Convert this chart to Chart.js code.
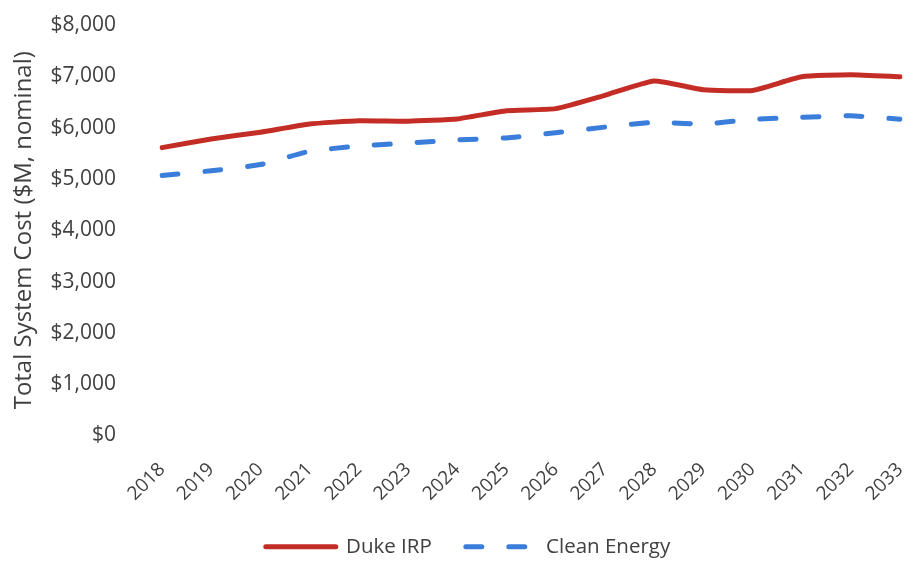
<!DOCTYPE html>
<html>
<head>
<meta charset="utf-8">
<script src="https://cdn.jsdelivr.net/npm/chart.js@4"></script>
<style>
  html, body { margin: 0; padding: 0; background: #ffffff; }
  #wrap { width: 914px; height: 571px; position: relative; }
</style>
</head>
<body>
<div id="wrap"><canvas id="c" width="914" height="571"></canvas></div>
<script>
// Total system cost by year, $M nominal
const years = ['2018','2019','2020','2021','2022','2023','2024','2025','2026','2027','2028','2029','2030','2031','2032','2033'];
const dukeIRP = [5610, 5780, 5910, 6070, 6135, 6125, 6170, 6330, 6370, 6630, 6910, 6740, 6725, 6990, 7030, 6990];
const cleanEnergy = [5065, 5160, 5280, 5540, 5640, 5700, 5760, 5800, 5900, 6010, 6105, 6070, 6160, 6200, 6230, 6165];
const yTicks = [0, 1000, 2000, 3000, 4000, 5000, 6000, 7000, 8000];

const FONT = "'Open Sans', 'Liberation Sans', sans-serif";
const TEXT = '#404040';

// nudge the legend row a little to the right, under the plot
const legendShift = {
  id: 'legendShift',
  afterLayout(chart) {
    if (chart.legend) {
      chart.legend.left += 13;
      chart.legend.right += 13;
    }
  }
};

new Chart(document.getElementById('c'), {
  type: 'line',
  data: {
    labels: years,
    datasets: [
      {
        label: 'Duke IRP',
        data: dukeIRP,
        borderColor: '#C42D25',
        backgroundColor: '#C42D25',
        borderWidth: 5,
        borderCapStyle: 'round',
        borderJoinStyle: 'round',
        pointRadius: 0,
        pointHoverRadius: 0,
        tension: 0.15
      },
      {
        label: 'Clean Energy',
        data: cleanEnergy,
        borderColor: '#3B7DDA',
        backgroundColor: '#3B7DDA',
        borderWidth: 5,
        borderDash: [16, 27],
        borderCapStyle: 'round',
        borderJoinStyle: 'round',
        pointRadius: 0,
        pointHoverRadius: 0,
        tension: 0.15
      }
    ]
  },
  options: {
    responsive: false,
    animation: false,
    devicePixelRatio: 1,
    layout: { padding: { top: 25, right: 14, bottom: 4, left: 10 } },
    plugins: {
      tooltip: { enabled: false },
      legend: {
        position: 'bottom',
        labels: {
          color: TEXT,
          font: { family: FONT, size: 20.5 },
          usePointStyle: true,
          pointStyle: 'line',
          pointStyleWidth: 70,
          boxHeight: 20,
          padding: 34,
          generateLabels(chart) {
            const items = Chart.defaults.plugins.legend.labels.generateLabels(chart);
            items.forEach((it) => {
              const ds = chart.data.datasets[it.datasetIndex];
              it.lineDash = ds.borderDash || [];
              it.lineWidth = ds.borderWidth;
              it.lineCap = 'round';
              it.strokeStyle = ds.borderColor;
            });
            return items;
          }
        }
      }
    },
    scales: {
      x: {
        grid: { display: false, drawTicks: false },
        border: { display: false },
        ticks: {
          color: TEXT,
          font: { family: FONT, size: 19 },
          minRotation: 45,
          maxRotation: 45,
          padding: 23,
          autoSkip: false
        },
        afterFit: (s) => {
          s.height = 67;
          s.paddingLeft = 0;
          s.paddingRight = 0;
        }
      },
      y: {
        min: 0,
        max: 8000,
        afterBuildTicks: (s) => { s.ticks = yTicks.map(v => ({ value: v })); },
        grid: { display: false, drawTicks: false },
        border: { display: false },
        ticks: {
          color: TEXT,
          font: { family: FONT, size: 21 },
          padding: 46,
          callback: (v) => '$' + Number(v).toLocaleString('en-US')
        },
        title: {
          display: true,
          text: 'Total System Cost ($M, nominal)',
          color: TEXT,
          font: { family: FONT, size: 24 },
          padding: 0
        },
        afterFit: (s) => {
          s.width = 152;
          s.paddingTop = 0;
          s.paddingBottom = 0;
        }
      }
    }
  },
  plugins: [legendShift]
});
</script>
</body>
</html>
